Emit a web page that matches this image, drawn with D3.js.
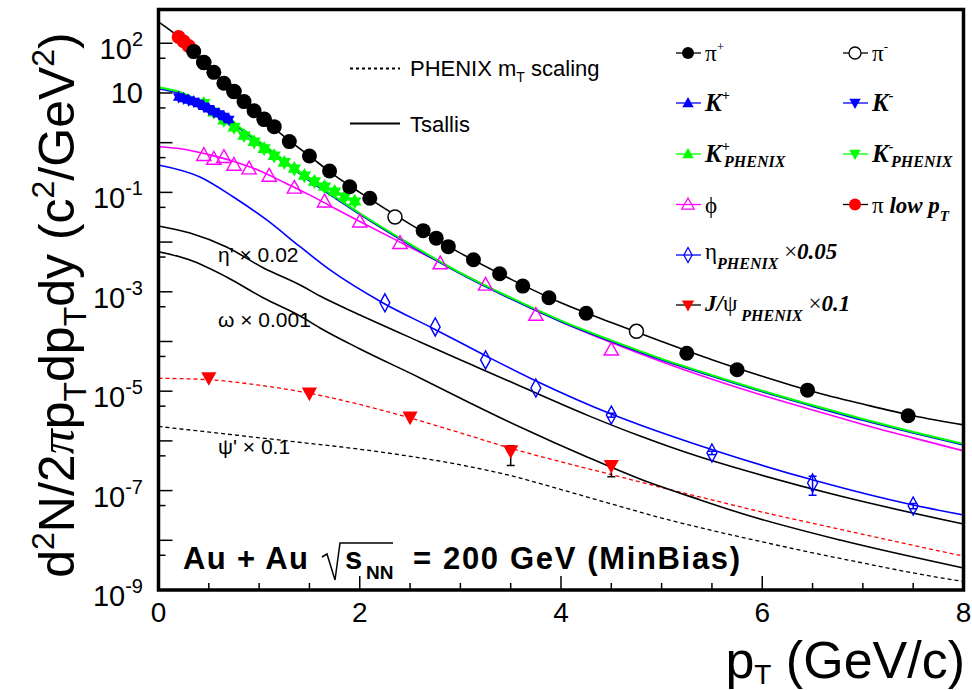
<!DOCTYPE html>
<html><head><meta charset="utf-8">
<script src="https://cdn.jsdelivr.net/npm/d3@7"></script>
<style>body{margin:0;background:#fff}svg{display:block}</style>
</head><body><svg id="c" width="972" height="690"></svg>
<script>
// ---------------- DATA ----------------
// pi+ (STAR) points
const piPlusPt  = [0.35,0.45,0.55,0.65,0.75,0.85,0.95,1.05,1.15,1.3,1.5,1.7,1.9,2.1,2.63,2.76,2.88,3.13,3.39,3.62,3.88,4.25,5.25,5.75,6.45,7.45];
const piPlusVal = [68,41,26,15.7,10.7,6.7,4.4,2.95,2.1,1.05,0.54,0.27,0.13,0.076,0.017,0.012,0.0081,0.0044,0.0023,0.0013,7.6e-4,3.7e-4,5.8e-5,2.7e-5,1.05e-5,3.2e-6];
// pi- points (open)
const piMinusPt  = [0.45,0.75,1.05,2.35,4.75];
const piMinusVal = [41,10.7,2.95,0.032,1.6e-4];
// pi low pT
const piLowPt  = [0.2,0.25,0.3,0.35];
const piLowVal = [134,109,88,70];
// K+ / K- (STAR)
const kPlusPt  = [0.2,0.25,0.3,0.35,0.4,0.45,0.5,0.55,0.6,0.65,0.7];
const kPlusVal = [8.5,7.9,7.4,6.9,6.3,5.5,4.9,4.35,3.9,3.45,3.0];
const kMinusPt  = [0.2,0.25,0.3,0.35,0.4,0.45,0.5,0.55,0.6,0.65,0.7];
const kMinusVal = [8.1,7.6,7.0,6.6,6.0,5.3,4.7,4.1,3.7,3.3,2.85];
// K+ / K- PHENIX
const kPhPt       = [0.45,0.55,0.65,0.75,0.85,0.95,1.05,1.15,1.25,1.35,1.45,1.55,1.65,1.75,1.85,1.95];
const kPlusPhVal  = [6.3,4.2,2.9,2.1,1.43,1.07,0.78,0.56,0.41,0.31,0.224,0.17,0.135,0.107,0.085,0.068];
const kMinusPhVal = [6.0,4.0,2.75,2.0,1.36,1.01,0.74,0.53,0.39,0.29,0.21,0.16,0.126,0.1,0.079,0.063];
// phi
const phiPt  = [0.45,0.55,0.65,0.75,0.9,1.1,1.35,1.65,2.0,2.4,2.8,3.25,3.75,4.5];
const phiVal = [0.56,0.47,0.51,0.355,0.30,0.214,0.123,0.065,0.0257,0.0095,0.0037,0.00138,3.4e-4,6.8e-5];
// eta PHENIX x0.05
const etaPt    = [2.25,2.75,3.25,3.75,4.5,5.5,6.5,7.5];
const etaVal   = [6.0e-4,1.96e-4,4.25e-5,1.16e-5,3.3e-6,5.7e-7,1.42e-7,4.9e-8];
const etaErrLo = [6.0e-4,1.96e-4,4.25e-5,1.16e-5,3.0e-6,5.3e-7,8.1e-8,4.3e-8];
const etaErrHi = [6.0e-4,1.96e-4,4.25e-5,1.16e-5,3.6e-6,6.2e-7,1.95e-7,5.5e-8];
// J/psi PHENIX x0.1
const jpsiPt    = [0.5,1.5,2.5,3.5,4.5];
const jpsiVal   = [1.86e-5,9.1e-6,3.0e-6,6.3e-7,3.2e-7];
const jpsiErrLo = [1.86e-5,9.1e-6,3.0e-6,3.2e-7,1.9e-7];
const jpsiErrHi = [1.86e-5,9.1e-6,3.0e-6,8.0e-7,3.7e-7];

// Curves
const piCurvePt  = [0,0.25,0.5,0.75,1,1.25,1.5,1.75,2,2.5,3,3.5,4,4.5,5,5.5,6,6.5,7,7.5,8];
const piCurveVal = [269,110,32,11,3.6,1.32,0.54,0.22,0.1,0.023,0.006,0.0018,6.0e-4,2.4e-4,1.0e-4,4.3e-5,2.0e-5,9.9e-6,5.5e-6,3.2e-6,2.1e-6];
const kCurvePt   = [0,0.25,0.5,0.75,1,1.25,1.5,1.75,2,2.5,3,3.5,4,4.5,5,5.5,6,6.5,7,7.5,8];
const kGreenVal  = [13,9.8,5.3,2.45,1.06,0.44,0.18,0.083,0.038,0.0091,0.0024,7.6e-4,2.63e-4,1.05e-4,4.47e-5,2.1e-5,1.02e-5,5.2e-6,2.75e-6,1.51e-6,8.7e-7];
const kBlueVal   = [12.2,9.2,5.0,2.3,1.0,0.41,0.17,0.078,0.036,0.0086,0.0023,7.2e-4,2.5e-4,1.0e-4,4.25e-5,2.0e-5,9.7e-6,4.95e-6,2.6e-6,1.44e-6,8.3e-7];
const phiCurvePt  = [0,0.25,0.5,0.75,1,1.25,1.5,1.75,2,2.5,3,3.5,4,4.5,5,5.5,6,6.5,7,7.5,8];
const phiCurveVal = [0.83,0.74,0.575,0.42,0.275,0.158,0.089,0.048,0.026,0.0079,0.0024,7.4e-4,2.5e-4,9.5e-5,3.9e-5,1.74e-5,8.3e-6,4.2e-6,2.14e-6,1.15e-6,6.3e-7];
const etaCurvePt  = [0,0.4125,0.7406,1.0755,1.4066,1.7048,2.2316,2.7386,3.2555,3.7525,4.498,4.7863,5.512,6.506,7.5,8];
const etaCurveVal = [0.356,0.204,0.0818,0.0279,0.00807,0.00275,5.96e-4,1.79e-4,5.1e-5,1.6e-5,3.47e-6,2.09e-6,6.56e-7,1.63e-7,5.13e-8,3.23e-8];
const etapCurvePt  = [0,0.313,0.676,1.044,1.407,1.605,2.003,2.599,3.096,3.593,4.259,4.786,5.383,5.78,6.774,8];
const etapCurveVal = [0.0211,0.0152,0.00796,0.00301,0.00137,8.2e-4,3.41e-4,9.8e-5,3.52e-5,1.27e-5,3.3e-6,1.25e-6,4.72e-7,2.71e-7,7.75e-8,2.12e-8];
const omegaCurvePt  = [0,0.313,0.676,1.044,1.407,1.605,2.003,2.599,3.096,3.593,4.259,4.786,5.383,5.78,6.774,8];
const omegaCurveVal = [6.41e-3,4.37e-3,1.99e-3,7.5e-4,3.26e-4,1.87e-4,7.06e-5,1.85e-5,5.8e-6,1.9e-6,4.74e-7,1.71e-7,6.5e-8,3.54e-8,1.01e-8,2.77e-9];
const jpsiCurvePt  = [0,0.5,1,1.5,2,2.5,3,3.5,4,4.5,5,5.5,6,6.5,7,7.5,8];
const jpsiCurveVal = [1.82e-5,1.7e-5,1.32e-5,9.1e-6,5.4e-6,2.9e-6,1.45e-6,7.1e-7,3.8e-7,2.1e-7,1.15e-7,6.5e-8,3.7e-8,2.2e-8,1.32e-8,7.9e-9,4.8e-9];
const psipCurvePt  = [0,0.75,1.5,2,2.5,3,3.5,4,4.5,5,5.5,6,6.5,7,7.5,8];
const psipCurveVal = [1.95e-6,1.32e-6,8.9e-7,6.8e-7,4.9e-7,3.3e-7,2.0e-7,1.05e-7,5.4e-8,2.8e-8,1.58e-8,9.3e-9,5.6e-9,3.5e-9,2.2e-9,1.48e-9];

const xTicks = [0,2,4,6,8];
const yLabelExps = [2,1,-1,-3,-5,-7,-9];

// ---------------- DRAW ----------------
const svg = d3.select("#c");
const X0=158.5, X1=963.5, Y0=590, Y1=9.5;
const x = d3.scaleLinear().domain([0,8]).range([X0,X1]);
const y = d3.scaleLog().domain([1e-9,478]).range([Y0,Y1]);
const SANS = "'Liberation Sans', Arial, Helvetica, sans-serif";
const SERIF = "'Liberation Serif', 'Times New Roman', serif";

svg.append("rect").attr("width",972).attr("height",690).attr("fill","#fff");
svg.append("clipPath").attr("id","cp").append("rect")
  .attr("x",X0).attr("y",Y1).attr("width",X1-X0).attr("height",Y0-Y1);
const plot = svg.append("g").attr("clip-path","url(#cp)");

const zip = (a,b)=>a.map((v,i)=>[v,b[i]]);
const line = d3.line().x(d=>x(d[0])).y(d=>y(d[1])).curve(d3.curveMonotoneX);
function curve(pt,val,color,w,dash){
  plot.append("path").attr("d",line(zip(pt,val))).attr("fill","none")
    .attr("stroke",color).attr("stroke-width",w).attr("stroke-dasharray",dash||null);
}
curve(psipCurvePt,psipCurveVal,"#000",1.3,"4,3");
curve(jpsiCurvePt,jpsiCurveVal,"#ff0000",1.3,"4,3");
curve(omegaCurvePt,omegaCurveVal,"#000",1.6);
curve(etapCurvePt,etapCurveVal,"#000",1.6);
curve(etaCurvePt,etaCurveVal,"#0000ff",1.6);
curve(phiCurvePt,phiCurveVal,"#ff00ff",1.6);
curve(kCurvePt,kBlueVal,"#0000ff",1.6);
curve(kCurvePt,kGreenVal,"#00ff00",2);
curve(piCurvePt,piCurveVal,"#000",1.6);

// marker shapes (relative to center)
const shapes = {
  up:  s=>`M0,${-s} L${s*0.95},${s*0.7} L${-s*0.95},${s*0.7}Z`,
  down:s=>`M0,${s} L${s*0.95},${-s*0.7} L${-s*0.95},${-s*0.7}Z`,
  diamond:s=>`M0,${-s} L${s*0.55},0 L0,${s} L${-s*0.55},0Z`
};
function markers(g,pt,val,opt){
  const sel = g.selectAll(null).data(zip(pt,val)).enter();
  if(opt.shape==="circle"){
    sel.append("circle").attr("cx",d=>x(d[0])).attr("cy",d=>y(d[1])).attr("r",opt.size)
      .attr("fill",opt.fill).attr("stroke",opt.stroke||"none").attr("stroke-width",opt.sw||0);
  } else {
    sel.append("path").attr("transform",d=>`translate(${x(d[0])},${y(d[1])})`)
      .attr("d",shapes[opt.shape](opt.size))
      .attr("fill",opt.fill).attr("stroke",opt.stroke||"none").attr("stroke-width",opt.sw||0);
  }
}
function errbars(g,pt,lo,hi,color){
  pt.forEach((p,i)=>{
    if(lo[i]===hi[i]) return;
    const cx=x(p), ya=y(hi[i]), yb=y(lo[i]);
    g.append("line").attr("x1",cx).attr("x2",cx).attr("y1",ya).attr("y2",yb).attr("stroke",color).attr("stroke-width",1.5);
    [ya,yb].forEach(yy=>g.append("line").attr("x1",cx-4).attr("x2",cx+4).attr("y1",yy).attr("y2",yy).attr("stroke",color).attr("stroke-width",1.5));
  });
}
const mk = plot.append("g");
markers(mk,piLowPt,piLowVal,{shape:"circle",size:7,fill:"#ff0000"});
markers(mk,kPhPt,kPlusPhVal,{shape:"up",size:7,fill:"#00ff00"});
markers(mk,kPhPt,kMinusPhVal,{shape:"down",size:7,fill:"#00ff00"});
markers(mk,kPlusPt,kPlusVal,{shape:"up",size:6,fill:"#0000ff"});
markers(mk,kMinusPt,kMinusVal,{shape:"down",size:6,fill:"#0000ff"});
markers(mk,phiPt,phiVal,{shape:"up",size:7.5,fill:"none",stroke:"#ff00ff",sw:1.4});
errbars(mk,etaPt,etaErrLo,etaErrHi,"#0000ff");
markers(mk,etaPt,etaVal,{shape:"diamond",size:9,fill:"none",stroke:"#0000ff",sw:1.4});
errbars(mk,jpsiPt,jpsiErrLo,jpsiErrHi,"#000");
markers(mk,jpsiPt,jpsiVal,{shape:"down",size:8,fill:"#ff0000"});
markers(mk,piMinusPt,piMinusVal,{shape:"circle",size:7,fill:"#fff",stroke:"#000",sw:1.5});
markers(mk,piPlusPt,piPlusVal,{shape:"circle",size:7.5,fill:"#000"});

// frame
svg.append("rect").attr("x",X0).attr("y",Y1).attr("width",X1-X0).attr("height",Y0-Y1)
  .attr("fill","none").attr("stroke","#000").attr("stroke-width",3.5);

// x ticks
const xt = svg.append("g");
d3.range(0,8.01,0.5).forEach(v=>{
  const major = xTicks.includes(v);
  xt.append("line").attr("x1",x(v)).attr("x2",x(v)).attr("y1",Y0).attr("y2",Y0-(major?14:7))
    .attr("stroke","#000").attr("stroke-width",1.5);
});
xt.selectAll(null).data(xTicks).enter().append("text")
  .attr("x",d=>x(d)).attr("y",622).attr("text-anchor","middle")
  .attr("font-family",SANS).attr("font-size",28).text(d=>d);

// y ticks
const yt = svg.append("g");
d3.range(-9,3).forEach(e=>{
  const v = Math.pow(10,e);
  yt.append("line").attr("x1",X0).attr("x2",X0+14).attr("y1",y(v)).attr("y2",y(v)).attr("stroke","#000").attr("stroke-width",1.5);
  const m = 5*Math.pow(10,e);
  if(m<478) yt.append("line").attr("x1",X0).attr("x2",X0+7).attr("y1",y(m)).attr("y2",y(m)).attr("stroke","#000").attr("stroke-width",1.5);
});
yLabelExps.forEach(e=>{
  const yy = y(Math.pow(10,e));
  const t = yt.append("text").attr("x",143).attr("text-anchor","end")
    .attr("font-family",SANS).attr("font-size",29);
  if(e===1){ t.attr("y",yy+10).text("10"); }
  else {
    t.attr("y",yy+16);
    t.append("tspan").text("10");
    t.append("tspan").attr("dy",-13).attr("font-size",20).text(String(e));
  }
});

// axis titles
const yTitle = svg.append("text").attr("transform","translate(74,305) rotate(-90)")
  .attr("text-anchor","middle").attr("font-family",SANS).attr("font-size",50);
yTitle.append("tspan").text("d");
yTitle.append("tspan").attr("dy",-20).attr("font-size",32).text("2");
yTitle.append("tspan").attr("dy",20).text("N/2");
yTitle.append("tspan").attr("font-family",SERIF).attr("font-style","italic").text("π");
yTitle.append("tspan").text("p");
yTitle.append("tspan").attr("dy",12).attr("font-size",32).text("T");
yTitle.append("tspan").attr("dy",-12).text("dp");
yTitle.append("tspan").attr("dy",12).attr("font-size",32).text("T");
yTitle.append("tspan").attr("dy",-12).text("dy (c");
yTitle.append("tspan").attr("dy",-20).attr("font-size",32).text("2");
yTitle.append("tspan").attr("dy",20).text("/GeV");
yTitle.append("tspan").attr("dy",-20).attr("font-size",32).text("2");
yTitle.append("tspan").attr("dy",20).text(")");

const xTitle = svg.append("text").attr("x",965).attr("y",678).attr("text-anchor","end")
  .attr("font-family",SANS).attr("font-size",52);
xTitle.append("tspan").text("p");
xTitle.append("tspan").attr("dy",6).attr("font-size",28).text("T");
xTitle.append("tspan").attr("dy",-6).text(" (GeV/c)");

// left legend
const lg = svg.append("g").attr("font-family",SANS).attr("font-size",22);
lg.append("line").attr("x1",350).attr("x2",400).attr("y1",68.5).attr("y2",68.5).attr("stroke","#000").attr("stroke-width",2).attr("stroke-dasharray","3,3");
const t1 = lg.append("text").attr("x",410).attr("y",76);
t1.append("tspan").text("PHENIX m");
t1.append("tspan").attr("dy",6).attr("font-size",14).text("T");
t1.append("tspan").attr("dy",-6).text(" scaling");
lg.append("line").attr("x1",350).attr("x2",400).attr("y1",123.5).attr("y2",123.5).attr("stroke","#000").attr("stroke-width",2);
lg.append("text").attr("x",410).attr("y",131.5).text("Tsallis");

// right legend
const rowY = [53,103,154,204.5,255,305];
const colMX = [688,855], colTX = [705,872];
const rl = svg.append("g");
function legMarker(c,r,shape,size,fill,stroke,lineColor){
  const cx=colMX[c], cy=rowY[r];
  rl.append("line").attr("x1",cx-12).attr("x2",cx+13).attr("y1",cy).attr("y2",cy).attr("stroke",lineColor).attr("stroke-width",1.3);
  if(shape==="circle") rl.append("circle").attr("cx",cx).attr("cy",cy).attr("r",size).attr("fill",fill).attr("stroke",stroke||"none").attr("stroke-width",1.3);
  else rl.append("path").attr("transform",`translate(${cx},${cy})`).attr("d",shapes[shape](size)).attr("fill",fill).attr("stroke",stroke||"none").attr("stroke-width",1.3);
}
legMarker(0,0,"circle",6,"#000",null,"#000");
legMarker(1,0,"circle",6,"#fff","#000","#000");
legMarker(0,1,"up",6,"#0000ff",null,"#0000ff");
legMarker(1,1,"down",6,"#0000ff",null,"#0000ff");
legMarker(0,2,"up",6,"#00ff00",null,"#00ff00");
legMarker(1,2,"down",6,"#00ff00",null,"#00ff00");
legMarker(0,3,"up",6.5,"none","#ff00ff","#ff00ff");
legMarker(1,3,"circle",6,"#ff0000",null,"#000");
legMarker(0,4,"diamond",7.5,"none","#0000ff","#0000ff");
legMarker(0,5,"down",6.5,"#ff0000",null,"#000");

function ltext(c,r,dy){ return rl.append("text").attr("x",colTX[c]).attr("y",rowY[r]+dy).attr("font-family",SERIF).attr("font-size",23); }
const BI = s=>s.attr("font-weight","bold").attr("font-style","italic");
let t;
t = ltext(0,0,8); t.append("tspan").text("π"); t.append("tspan").attr("dy",-10).attr("font-size",13).text("+");
t = ltext(1,0,8); t.append("tspan").text("π"); t.append("tspan").attr("dy",-10).attr("font-size",13).text("-");
t = ltext(0,1,8); BI(t.append("tspan").attr("font-size",25).text("K")); BI(t.append("tspan").attr("dy",-11).attr("font-size",14).text("+"));
t = ltext(1,1,8); BI(t.append("tspan").attr("font-size",25).text("K")); BI(t.append("tspan").attr("dy",-11).attr("font-size",14).text("-"));
t = ltext(0,2,8); BI(t.append("tspan").attr("font-size",25).text("K")); BI(t.append("tspan").attr("dy",-11).attr("font-size",14).text("+"));
BI(t.append("tspan").attr("x",colTX[0]+19).attr("dy",16).attr("font-size",16).text("PHENIX"));
t = ltext(1,2,8); BI(t.append("tspan").attr("font-size",25).text("K")); BI(t.append("tspan").attr("dy",-11).attr("font-size",14).text("-"));
BI(t.append("tspan").attr("x",colTX[1]+19).attr("dy",16).attr("font-size",16).text("PHENIX"));
t = ltext(0,3,8); t.append("tspan").text("ϕ");
t = ltext(1,3,8); t.append("tspan").text("π "); BI(t.append("tspan").text("low p")); BI(t.append("tspan").attr("dy",8).attr("font-size",15).text("T"));
t = ltext(0,4,4); t.append("tspan").text("η"); BI(t.append("tspan").attr("dy",10).attr("font-size",16).text("PHENIX"));
t.append("tspan").attr("dy",-10).text(" ×"); BI(t.append("tspan").text("0.05"));
t = ltext(0,5,6); BI(t.append("tspan").text("J/")); t.append("tspan").text("ψ");
BI(t.append("tspan").attr("dy",10).attr("font-size",16).text(" PHENIX"));
t.append("tspan").attr("dy",-10).text(" ×"); BI(t.append("tspan").text("0.1"));

// annotations
const an = svg.append("g").attr("font-family",SANS).attr("font-size",21);
an.append("text").attr("x",218).attr("y",262).text("η' × 0.02");
an.append("text").attr("x",218).attr("y",327).text("ω × 0.001");
an.append("text").attr("x",218).attr("y",454).text("ψ' × 0.1");

// Au+Au label
const au = svg.append("g").attr("font-family",SANS).attr("font-weight","bold").attr("font-size",31);
au.append("text").attr("x",183).attr("y",569).attr("textLength",125).text("Au + Au");
au.append("path").attr("d","M322,557 L327,554 L335,580 L340,543 L393,543").attr("fill","none").attr("stroke","#000").attr("stroke-width",1.5);
au.append("text").attr("x",345).attr("y",569).text("s");
au.append("text").attr("x",366).attr("y",579).attr("font-size",19).text("NN");
au.append("text").attr("x",413).attr("y",569).attr("textLength",327).text("= 200 GeV (MinBias)");
</script></body></html>
